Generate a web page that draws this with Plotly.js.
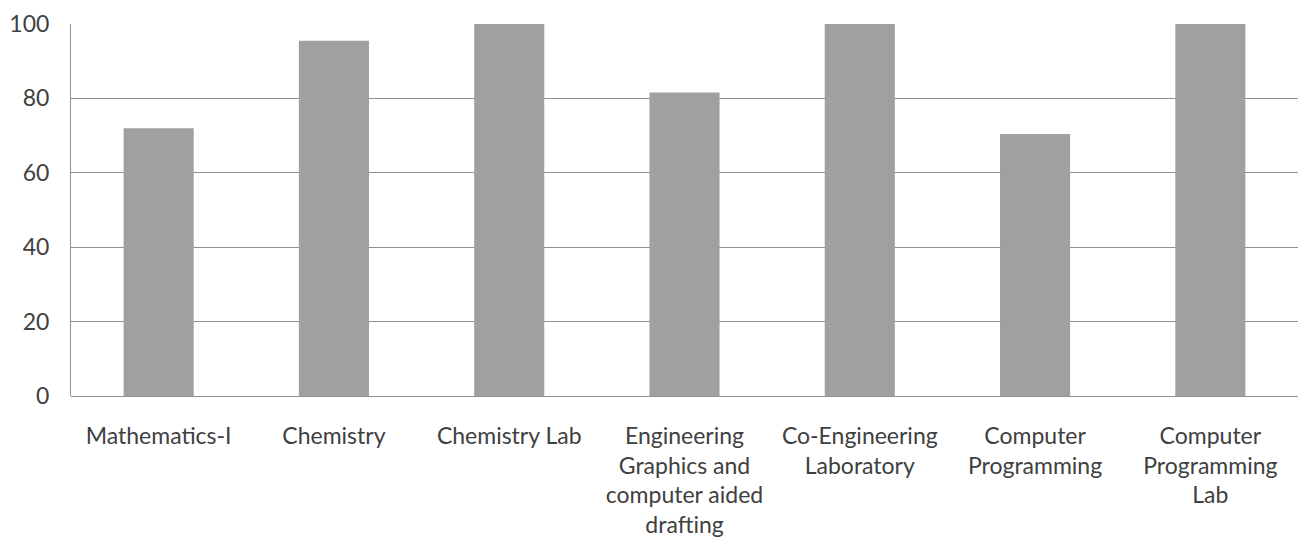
<!DOCTYPE html>
<html><head><meta charset="utf-8">
<script src="https://cdn.plot.ly/plotly-3.0.1.min.js"></script>
<style>html,body{margin:0;padding:0;background:#fff}</style>
</head><body>
<div id="chart" style="width:1298px;height:541px"></div>
<script>
const categories = [
  "Mathematics-I",
  "Chemistry",
  "Chemistry Lab",
  "Engineering<br>Graphics and<br>computer aided<br>drafting",
  "Co-Engineering<br>Laboratory",
  "Computer<br>Programming",
  "Computer<br>Programming<br>Lab"
];
const values = [72, 95.5, 100, 81.6, 100, 70.4, 100];
const yTicks = [0, 20, 40, 60, 80, 100];

const trace = {
  type: 'bar',
  x: categories,
  y: values,
  width: 0.4,
  marker: {color: '#a0a0a0', line: {width: 0}},
  hoverinfo: 'skip'
};
const layout = {
  width: 1298, height: 541,
  margin: {l: 71, r: 0, t: 24, b: 145},
  paper_bgcolor: '#fff', plot_bgcolor: '#fff',
  showlegend: false,
  font: {family: 'Lato, "Open Sans", sans-serif', size: 23, color: '#404040'},
  xaxis: {
    type: 'category', range: [-0.5, 6.5],
    showgrid: false, zeroline: false, showline: false,
    ticks: 'outside', ticklen: 19, tickcolor: 'rgba(0,0,0,0)',
    tickangle: 0, tickfont: {size: 23, color: '#404040'}
  },
  yaxis: {
    range: [0, 100], tickvals: yTicks, ticktext: yTicks.map(String),
    showgrid: true, gridcolor: '#909090', gridwidth: 1,
    zeroline: true, zerolinecolor: '#909090', zerolinewidth: 1,
    showline: true, linecolor: '#909090', linewidth: 1,
    ticks: 'outside', ticklen: 16, tickcolor: 'rgba(0,0,0,0)',
    tickfont: {size: 23, color: '#404040'}
  }
};
Plotly.newPlot('chart', [trace], layout, {displayModeBar: false, staticPlot: true});
</script>
</body></html>
